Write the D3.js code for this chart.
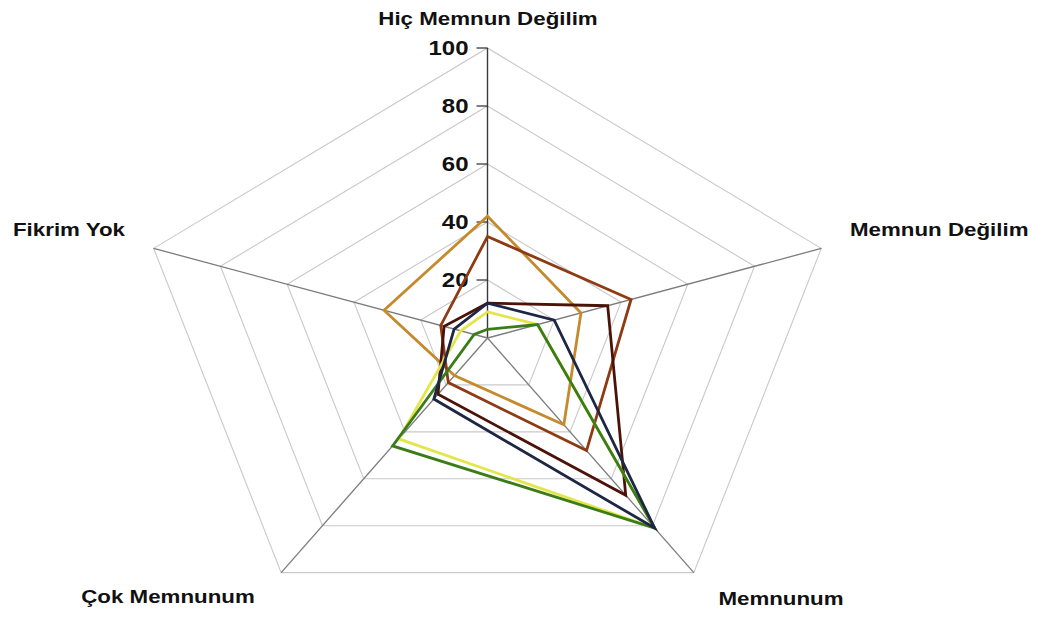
<!DOCTYPE html>
<html>
<head>
<meta charset="utf-8">
<script src="https://cdn.jsdelivr.net/npm/d3@7"></script>
<style>
  html, body { margin: 0; padding: 0; background: #ffffff; }
  svg { display: block; }
  text { font-family: "Liberation Sans", Arial, sans-serif; font-weight: bold; fill: #111; }
</style>
</head>
<body>
<svg id="chart" width="1038" height="618"></svg>
<script>
// Axis categories, clockwise from the top
const categories = ["Hiç Memnun Değilim", "Memnun Değilim", "Memnunum", "Çok Memnunum", "Fikrim Yok"];

// Percentages per group, in category order
const group1 = [42, 28, 37, 16, 31];
const group2 = [35, 43, 48, 19, 14];
const group3 = [12, 36, 67, 24, 13];
const group4 = [12, 20, 81, 26, 10];
const group5 = [3, 15, 81, 46, 4];
const group6 = [9, 15, 81, 43, 8];

const seriesColors = ["#c48a2c", "#8e3a12", "#4b1208", "#e3e64a", "#3a7c18", "#1d2744"];
const seriesData = [group1, group2, group3, group6, group5, group4];

// Radial tick values
const tickValues = [20, 40, 60, 80, 100];

const svg = d3.select("#chart");
const cx = 487.5, cy = 338;
const rX = d3.scaleLinear().domain([0, 100]).range([0, 351]);
const rY = d3.scaleLinear().domain([0, 100]).range([0, 290]);
const angle = d3.scaleLinear().domain([0, categories.length]).range([0, 2 * Math.PI]);

function pt(i, v) {
  const a = angle(i);
  return [cx + rX(v) * Math.sin(a), cy - rY(v) * Math.cos(a)];
}

// grid pentagons
const grid = svg.append("g");
tickValues.forEach(t => {
  grid.append("path")
    .attr("d", d3.line()(categories.map((c, i) => pt(i, t))) + "Z")
    .attr("fill", "none")
    .attr("stroke", "#c9c9c9")
    .attr("stroke-width", 1.1);
});

// spokes
categories.forEach((c, i) => {
  const [x, y] = pt(i, 100);
  grid.append("line")
    .attr("x1", cx).attr("y1", cy).attr("x2", x).attr("y2", y)
    .attr("stroke", i === 0 ? "#3a3a3a" : "#7c7c7c")
    .attr("stroke-width", i === 0 ? 1.4 : 1.3);
});

// value axis along the top spoke
const axisG = svg.append("g");
tickValues.forEach(t => {
  const [x, y] = pt(0, t);
  axisG.append("line")
    .attr("x1", x - 11).attr("x2", x).attr("y1", y).attr("y2", y)
    .attr("stroke", "#3a3a3a").attr("stroke-width", 1.3);
  axisG.append("text")
    .attr("transform", `translate(${x - 19},${y + 7}) scale(1.2,1)`)
    .attr("text-anchor", "end")
    .attr("font-size", 20)
    .text(t);
});

// series polygons
const line = d3.line();
seriesData.forEach((vals, k) => {
  const pts = vals.map((v, i) => pt(i, v));
  svg.append("path")
    .attr("d", line(pts) + "Z")
    .attr("fill", "none")
    .attr("stroke", seriesColors[k])
    .attr("stroke-width", 2.8)
    .attr("stroke-linejoin", "miter");
});

// category labels
const labelPos = [
  { x: 488, y: 25, anchor: "middle" },
  { x: 850, y: 236, anchor: "start" },
  { x: 781, y: 605, anchor: "middle" },
  { x: 168, y: 603, anchor: "middle" },
  { x: 125, y: 236, anchor: "end" }
];
categories.forEach((c, i) => {
  const p = labelPos[i];
  svg.append("text")
    .attr("transform", `translate(${p.x},${p.y}) scale(1.24,1)`)
    .attr("text-anchor", p.anchor)
    .attr("font-size", 18)
    .text(c);
});
</script>
</body>
</html>
